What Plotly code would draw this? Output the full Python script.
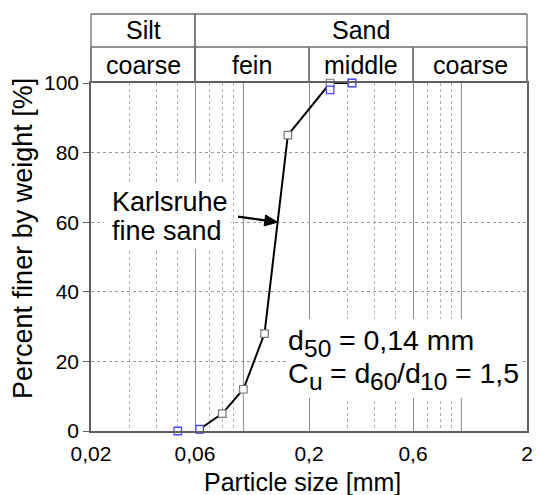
import numpy as np
import plotly.graph_objects as go

# ---- data ----
size_mm = [0.063, 0.08, 0.1, 0.125, 0.16, 0.25, 0.315]
finer_pct = [0.5, 5, 12, 28, 85, 100, 100]
blue_size = [0.05, 0.063, 0.25, 0.315]
blue_finer = [0, 0.5, 98, 100]

x_range = [0.02, 2]
major_ticks = [0.02, 0.06, 0.2, 0.6, 2]
major_text = ["0,02", "0,06", "0,2", "0,6", "2"]
solid_minor = [0.1, 1.0]
minor_ticks = [0.03, 0.04, 0.05, 0.07, 0.08, 0.09, 0.3, 0.4, 0.5, 0.7, 0.8, 0.9]
y_ticks = [0, 20, 40, 60, 80, 100]

row1_labels = ["Silt", "Sand"]
row1_bounds = [(0.02, 0.06), (0.06, 2)]
row2_labels = ["coarse", "fein", "middle", "coarse"]
row2_bounds = [(0.02, 0.06), (0.06, 0.2), (0.2, 0.6), (0.6, 2)]

arrow_tip = (0.1435, 60)

W, H = 542, 495
L, R, T, B = 91, 9, 83, 64
PW, PH = W - L - R, H - T - B
FONT = "Liberation Sans, Arial, sans-serif"

# Arial / Liberation Sans advance widths (per 1000 em)
ADV = {'d': 556, 'C': 722, 'u': 556, ' ': 278, '=': 584, ',': 278, 'm': 833, '/': 278}
for ch in "0123456789":
    ADV[ch] = 556

lx0, lx1 = np.log10(x_range[0]), np.log10(x_range[1])


def px(v):
    return (np.log10(v) - lx0) / (lx1 - lx0)


def pyp(pix):  # page pixel y -> paper
    return (T + PH - pix) / PH


def pxp(pix):  # page pixel x -> paper
    return (pix - L) / PW


fig = go.Figure()
fig.add_trace(go.Scatter(
    x=size_mm, y=finer_pct, mode="lines+markers",
    line=dict(color="black", width=2),
    marker=dict(symbol="square", size=7.5, color="white", line=dict(color="#777777", width=1.2)),
    cliponaxis=False, showlegend=False))
fig.add_trace(go.Scatter(
    x=blue_size, y=blue_finer, mode="markers",
    marker=dict(symbol="square", size=7.5, color="white", line=dict(color="#4a4aff", width=1.3)),
    cliponaxis=False, showlegend=False))

shapes = []
for v in solid_minor:
    shapes.append(dict(type="line", xref="x", yref="paper", x0=v, x1=v, y0=0, y1=1,
                       layer="below", line=dict(color="#8a8a8a", width=1)))

# white boxes behind the text labels
shapes.append(dict(type="rect", xref="paper", yref="paper", x0=pxp(104), x1=pxp(233), y0=pyp(249), y1=pyp(183),
                   fillcolor="white", line=dict(width=0), layer="above"))
shapes.append(dict(type="rect", xref="paper", yref="paper", x0=pxp(289), x1=pxp(529), y0=pyp(398), y1=pyp(319),
                   fillcolor="white", line=dict(width=0), layer="above"))

lc = dict(color="#6e6e6e", width=1.3)
y_mid = pyp(47)
y_top = pyp(14)
shapes.append(dict(type="line", xref="paper", yref="paper", x0=0, x1=1, y0=y_mid, y1=y_mid, line=lc))
shapes.append(dict(type="line", xref="paper", yref="paper", x0=0, x1=1, y0=y_top, y1=y_top, line=lc))
for (a, b) in row1_bounds:
    for v in (a, b):
        shapes.append(dict(type="line", xref="paper", yref="paper", x0=px(v), x1=px(v), y0=1, y1=y_top, line=lc))
for (a, b) in row2_bounds:
    for v in (a, b):
        shapes.append(dict(type="line", xref="paper", yref="paper", x0=px(v), x1=px(v), y0=1, y1=y_mid, line=lc))

# arrow (tail offset in pixels from the tip on the curve)
tip = np.array([L + px(arrow_tip[0]) * PW, T + PH * (1 - arrow_tip[1] / 100.0)])
tail = tip + np.array([-40.0, -5.5])
d = (tip - tail) / np.linalg.norm(tip - tail)
nrm = np.array([-d[1], d[0]])
base = tip - 13 * d
p1 = base + 5.5 * nrm
p2 = base - 5.5 * nrm


def to_paper(p):
    return pxp(p[0]), pyp(p[1])


t0 = to_paper(tail)
b0 = to_paper(base + 2 * d)
shapes.append(dict(type="line", xref="paper", yref="paper", x0=t0[0], y0=t0[1], x1=b0[0], y1=b0[1],
                   line=dict(color="black", width=2.2)))
q = [to_paper(tip), to_paper(p1), to_paper(p2)]
shapes.append(dict(type="path", xref="paper", yref="paper",
                   path="M %f %f L %f %f L %f %f Z" % (q[0][0], q[0][1], q[1][0], q[1][1], q[2][0], q[2][1]),
                   fillcolor="black", line=dict(color="black", width=1)))

ann = []
for lab, (a, b) in zip(row1_labels, row1_bounds):
    ann.append(dict(xref="paper", yref="paper", x=(px(a) + px(b)) / 2, y=pyp(30.5),
                    text=lab, showarrow=False, xanchor="center", yanchor="middle",
                    font=dict(size=25, color="black", family=FONT)))
for lab, (a, b) in zip(row2_labels, row2_bounds):
    ann.append(dict(xref="paper", yref="paper", x=(px(a) + px(b)) / 2, y=pyp(65),
                    text=lab, showarrow=False, xanchor="center", yanchor="middle",
                    font=dict(size=25, color="black", family=FONT)))


def text_at(txt, x_left, baseline, size):
    ann.append(dict(xref="paper", yref="paper", x=pxp(x_left), y=pyp(baseline - 0.3465 * size),
                    text=txt, showarrow=False, xanchor="left", yanchor="middle",
                    borderpad=0, borderwidth=0,
                    font=dict(size=size, color="black", family=FONT)))


def run_line(segments, x_left, baseline):
    x = x_left
    for txt, size, dy in segments:
        text_at(txt, x, baseline + dy, size)
        x += sum(ADV[c] for c in txt) / 1000.0 * size


# curve label
text_at("Karlsruhe", 112, 211, 27)
text_at("fine sand", 112, 240, 27)

# parameters
MAIN, SUBS, DY = 28.5, 24.5, 6.5
run_line([("d", MAIN, 0), ("50", SUBS, DY), (" = 0,14 mm", MAIN, 0)], 291, 350)
run_line([("C", MAIN, 0), ("u", SUBS, DY), (" = d", MAIN, 0), ("60", SUBS, DY),
          ("/d", MAIN, 0), ("10", SUBS, DY), (" = 1,5", MAIN, 0)], 291, 383)

# axis titles
ann.append(dict(xref="paper", yref="paper", x=pxp(305), y=pyp(482), text="Particle size [mm]",
                showarrow=False, xanchor="center", yanchor="middle",
                font=dict(size=25, color="black", family=FONT)))
ann.append(dict(xref="paper", yref="paper", x=pxp(22), y=pyp(238), text="Percent finer by weight [%]",
                showarrow=False, xanchor="center", yanchor="middle", textangle=-90,
                font=dict(size=27, color="black", family=FONT)))

fig.update_layout(
    width=W, height=H, margin=dict(l=L, r=R, t=T, b=B),
    paper_bgcolor="white", plot_bgcolor="white",
    font=dict(family=FONT, color="black"),
    shapes=shapes, annotations=ann,
    xaxis=dict(type="log", range=[lx0, lx1], tickmode="array", tickvals=major_ticks, ticktext=major_text,
               ticks="", ticklabelstandoff=3, tickfont=dict(size=21, color="black"),
               showgrid=True, gridcolor="#8a8a8a", gridwidth=1,
               minor=dict(tickvals=minor_ticks, showgrid=True, gridcolor="#b0b0b0", griddash="dot", gridwidth=1),
               showline=True, linecolor="#606060", linewidth=1.5, mirror=True, zeroline=False),
    yaxis=dict(range=[0, 100], tickmode="array", tickvals=y_ticks,
               ticks="outside", ticklen=6, tickcolor="#606060", tickwidth=1.2,
               tickfont=dict(size=21, color="black"),
               showgrid=True, gridcolor="#9a9a9a", griddash="dot", gridwidth=1,
               showline=True, linecolor="#606060", linewidth=1.5, mirror=True, zeroline=False),
)

fig.write_html("out.html")
